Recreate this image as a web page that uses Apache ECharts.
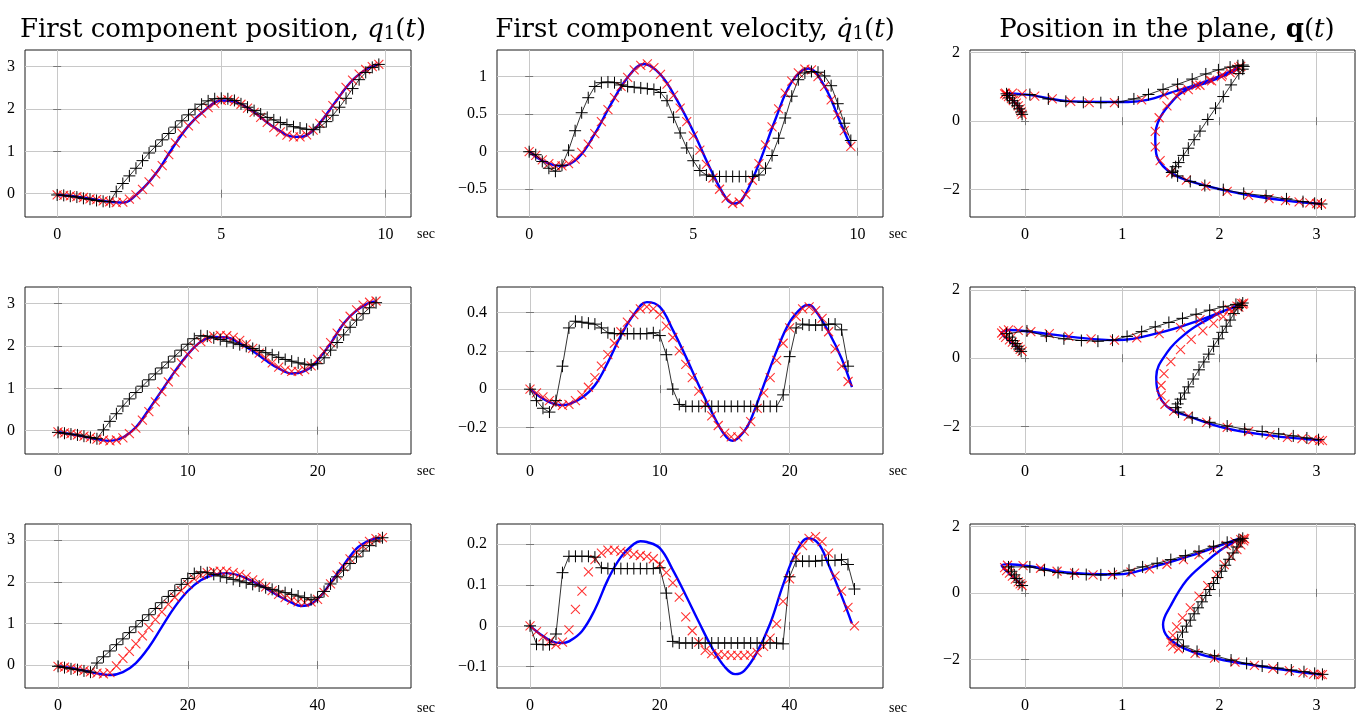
<!DOCTYPE html>
<html>
<head>
<meta charset="utf-8">
<script src="https://cdn.jsdelivr.net/npm/echarts@6/dist/echarts.min.js"></script>
<style>
    html, body { margin: 0; padding: 0; background: #fff; }
    #main { width: 1362px; height: 714px; }
</style>
</head>
<body>
<div id="main"></div>
<script>
// ---- row 1 : T = 10 s ----
var time1 = [0,0.2,0.4,0.6,0.8,1,1.2,1.4,1.6,1.8,2,2.2,2.4,2.6,2.8,3,3.2,3.4,3.6,3.8,4,4.2,4.4,4.6,4.8,5,5.2,5.4,5.6,5.8,6,6.2,6.4,6.6,6.8,7,7.2,7.4,7.6,7.8,8,8.2,8.4,8.6,8.8,9,9.2,9.4,9.6,9.8];
var redQ1_1 = [-0.03,-0.04,-0.05,-0.07,-0.09,-0.12,-0.14,-0.17,-0.19,-0.21,-0.2,-0.13,-0.03,0.1,0.28,0.47,0.66,0.92,1.2,1.43,1.6,1.76,1.9,2.03,2.13,2.2,2.22,2.18,2.11,2.02,1.92,1.8,1.68,1.56,1.46,1.38,1.34,1.34,1.39,1.5,1.66,1.86,2.08,2.3,2.51,2.68,2.82,2.93,3.0,3.05];
var redQ2_1 = [0.2,0.27,0.36,0.45,0.53,0.6,0.66,0.72,0.77,0.8,0.82,0.82,0.8,0.73,0.65,0.58,0.54,0.54,0.62,0.77,0.9,1.05,1.2,1.35,1.48,1.57,1.6,1.52,1.42,1.3,1.18,1.05,0.92,0.74,0.45,0.1,-0.3,-0.75,-1.15,-1.5,-1.72,-1.9,-2.05,-2.17,-2.26,-2.32,-2.36,-2.39,-2.41,-2.42];
var redV_1 = [0,-0.05,-0.11,-0.16,-0.19,-0.19,-0.16,-0.1,-0.01,0.1,0.24,0.4,0.56,0.72,0.87,0.99,1.09,1.15,1.17,1.12,1.03,0.9,0.75,0.58,0.4,0.21,0.02,-0.17,-0.35,-0.5,-0.62,-0.69,-0.67,-0.57,-0.38,-0.16,0.09,0.33,0.57,0.78,0.94,1.05,1.1,1.09,1.0,0.87,0.69,0.49,0.28,0.07];
var blkQ1_1 = [-0.03,-0.04,-0.06,-0.08,-0.11,-0.13,-0.16,-0.18,-0.19,0.05,0.24,0.42,0.6,0.78,0.96,1.12,1.27,1.42,1.57,1.72,1.86,1.99,2.11,2.19,2.24,2.25,2.24,2.2,2.12,2.04,1.96,1.88,1.8,1.74,1.68,1.63,1.58,1.55,1.52,1.51,1.57,1.7,1.85,2.04,2.25,2.48,2.69,2.86,2.98,3.05];
var blkQ2_1 = [0.2,0.27,0.36,0.45,0.53,0.6,0.68,0.75,0.8,0.78,0.65,0.58,0.55,0.54,0.56,0.65,0.78,0.93,1.08,1.23,1.38,1.5,1.58,1.62,1.64,1.6,1.52,1.39,1.06,0.72,0.38,0.05,-0.29,-0.54,-0.79,-1.0,-1.21,-1.33,-1.46,-1.5,-1.6,-1.76,-1.88,-2.0,-2.11,-2.18,-2.27,-2.35,-2.4,-2.42];
var blkV_1 = [0,-0.04,-0.13,-0.22,-0.26,-0.18,0.02,0.28,0.52,0.72,0.87,0.92,0.93,0.92,0.89,0.87,0.86,0.85,0.84,0.83,0.79,0.68,0.46,0.25,0.05,-0.12,-0.25,-0.31,-0.33,-0.33,-0.33,-0.33,-0.33,-0.33,-0.33,-0.31,-0.22,-0.05,0.18,0.45,0.74,0.96,1.05,1.07,1.06,1.01,0.88,0.64,0.38,0.15];
var blueT1 = [0,0.5,1,1.5,2,2.5,3,3.5,4,4.5,5,5.5,6,6.5,6.75,7,7.25,7.5,7.75,8,8.5,9,9.5,9.8];
var blueQ1_1 = [-0.03,-0.06,-0.12,-0.18,-0.21,0.04,0.47,1.06,1.6,1.97,2.2,2.15,1.92,1.62,1.5,1.38,1.34,1.35,1.46,1.66,2.19,2.68,2.97,3.05];
var blueQ2_1 = [0.2,0.4,0.6,0.75,0.82,0.77,0.58,0.56,0.92,1.28,1.57,1.46,1.18,0.85,0.53,0.05,-0.45,-0.95,-1.42,-1.72,-2.1,-2.32,-2.4,-2.42];
var blueVT1 = [0,0.5,1,1.5,2,2.5,3,3.5,4,4.5,5,5.5,6,6.25,6.5,7,7.5,8,8.5,9,9.5,9.8];
var blueV_1 = [0,-0.14,-0.19,-0.08,0.24,0.64,0.99,1.17,1.03,0.69,0.27,-0.21,-0.62,-0.69,-0.63,-0.16,0.43,0.93,1.11,0.87,0.37,0.07];

// ---- row 2 : T = 25 s ----
var time2 = [0,0.5,1,1.5,2,2.5,3,3.5,4,4.5,5,5.5,6,6.5,7,7.5,8,8.5,9,9.5,10,10.5,11,11.5,12,12.5,13,13.5,14,14.5,15,15.5,16,16.5,17,17.5,18,18.5,19,19.5,20,20.5,21,21.5,22,22.5,23,23.5,24,24.5];
var redQ1_2 = [-0.03,-0.05,-0.07,-0.1,-0.13,-0.16,-0.2,-0.22,-0.24,-0.22,-0.17,-0.07,0.06,0.25,0.45,0.68,0.92,1.15,1.38,1.6,1.8,1.97,2.1,2.18,2.23,2.25,2.24,2.2,2.13,2.04,1.94,1.83,1.71,1.6,1.5,1.43,1.4,1.4,1.44,1.53,1.68,1.87,2.08,2.3,2.52,2.7,2.85,2.96,3.03,3.06];
var redQ2_2 = [0.2,0.26,0.33,0.4,0.47,0.54,0.61,0.68,0.74,0.8,0.83,0.82,0.78,0.72,0.64,0.57,0.53,0.6,0.72,0.9,1.13,1.3,1.43,1.53,1.6,1.62,1.58,1.5,1.38,1.22,1.02,0.8,0.55,0.25,-0.1,-0.45,-0.8,-1.1,-1.35,-1.55,-1.7,-1.88,-2.03,-2.15,-2.25,-2.32,-2.36,-2.39,-2.41,-2.42];
var redV_2 = [0,-0.02,-0.04,-0.06,-0.075,-0.085,-0.08,-0.06,-0.03,0.01,0.06,0.12,0.18,0.24,0.3,0.35,0.39,0.42,0.43,0.42,0.39,0.33,0.27,0.2,0.13,0.06,-0.01,-0.08,-0.14,-0.19,-0.23,-0.25,-0.25,-0.22,-0.17,-0.1,-0.02,0.06,0.15,0.24,0.32,0.38,0.42,0.43,0.41,0.37,0.3,0.21,0.12,0.04];
var blkQ1_2 = [-0.04,-0.06,-0.08,-0.1,-0.13,-0.16,-0.19,0.02,0.22,0.4,0.58,0.75,0.9,1.05,1.2,1.34,1.48,1.62,1.76,1.9,2.04,2.17,2.24,2.23,2.19,2.15,2.11,2.07,2.03,1.99,1.94,1.89,1.84,1.79,1.73,1.68,1.64,1.6,1.57,1.55,1.58,1.72,1.9,2.08,2.26,2.44,2.61,2.76,2.9,3.02];
var blkQ2_2 = [0.2,0.27,0.35,0.43,0.52,0.62,0.72,0.8,0.65,0.57,0.52,0.5,0.53,0.64,0.78,0.92,1.05,1.17,1.29,1.41,1.51,1.58,1.62,1.55,1.49,1.31,1.12,0.94,0.76,0.57,0.35,0.12,-0.11,-0.34,-0.61,-0.84,-1.02,-1.2,-1.34,-1.45,-1.58,-1.75,-1.88,-1.99,-2.08,-2.15,-2.22,-2.28,-2.34,-2.39];
var blkV_2 = [0,-0.06,-0.1,-0.12,-0.06,0.12,0.32,0.355,0.35,0.345,0.34,0.32,0.295,0.29,0.29,0.29,0.29,0.29,0.29,0.295,0.28,0.18,0.0,-0.08,-0.09,-0.09,-0.09,-0.09,-0.09,-0.09,-0.09,-0.09,-0.09,-0.09,-0.09,-0.09,-0.09,-0.09,-0.09,-0.03,0.17,0.32,0.34,0.335,0.335,0.335,0.34,0.34,0.31,0.12];
var blueT2 = [0,1,2,3,4,5,6,7,8,9,10,11,12,13,14,15,16,17,18,18.5,19,19.5,20,21,22,23,24,24.5];
var blueQ1_2 = [-0.03,-0.08,-0.14,-0.2,-0.24,-0.16,0.08,0.5,0.95,1.4,1.8,2.1,2.21,2.2,2.06,1.88,1.66,1.47,1.35,1.36,1.41,1.5,1.66,2.06,2.53,2.84,3.02,3.05];
var blueQ2_2 = [0.2,0.33,0.47,0.61,0.74,0.83,0.77,0.62,0.53,0.76,1.12,1.45,1.58,1.55,1.4,1.14,0.74,0.2,-0.55,-0.9,-1.25,-1.5,-1.68,-2.05,-2.27,-2.36,-2.4,-2.41];
var blueVT2 = [0,1,2,2.5,3,4,5,6,7,8,9,10,11,12,13,14,15,15.6,16.5,17,18,19,20,21,21.5,22,23,24,24.8];
var blueV_2 = [0,-0.05,-0.08,-0.083,-0.078,-0.045,0.02,0.14,0.28,0.39,0.455,0.43,0.31,0.17,0.02,-0.12,-0.24,-0.27,-0.22,-0.16,0.02,0.2,0.35,0.43,0.44,0.41,0.3,0.16,0.01];

// ---- row 3 : T = 50 s ----
var time3 = [0,1,2,3,4,5,6,7,8,9,10,11,12,13,14,15,16,17,18,19,20,21,22,23,24,25,26,27,28,29,30,31,32,33,34,35,36,37,38,39,40,41,42,43,44,45,46,47,48,49,50];
var redQ1_3 = [-0.03,-0.05,-0.07,-0.1,-0.13,-0.16,-0.19,-0.21,-0.18,-0.02,0.16,0.33,0.51,0.7,0.9,1.09,1.28,1.46,1.63,1.79,1.94,2.07,2.16,2.22,2.25,2.26,2.25,2.22,2.18,2.12,2.05,1.97,1.88,1.79,1.7,1.62,1.56,1.52,1.5,1.52,1.58,1.75,1.95,2.16,2.36,2.55,2.72,2.86,2.97,3.04,3.06];
var redQ2_3 = [0.22,0.27,0.33,0.41,0.5,0.59,0.67,0.76,0.83,0.82,0.74,0.65,0.59,0.54,0.55,0.62,0.72,0.86,1.0,1.15,1.3,1.43,1.53,1.6,1.64,1.62,1.56,1.44,1.3,1.1,0.85,0.55,0.22,-0.1,-0.45,-0.75,-1.02,-1.28,-1.48,-1.6,-1.68,-1.82,-1.96,-2.08,-2.18,-2.27,-2.34,-2.4,-2.44,-2.46,-2.46];
var redV_3 = [0,-0.014,-0.027,-0.038,-0.046,-0.04,-0.01,0.04,0.085,0.132,0.162,0.178,0.185,0.185,0.182,0.178,0.175,0.172,0.17,0.164,0.15,0.13,0.105,0.07,0.022,-0.012,-0.04,-0.06,-0.068,-0.07,-0.071,-0.072,-0.072,-0.072,-0.071,-0.065,-0.05,-0.03,0.005,0.06,0.115,0.168,0.196,0.214,0.218,0.206,0.178,0.122,0.085,0.045,0.0];
var blkQ1_3 = [-0.03,-0.06,-0.09,-0.11,-0.14,-0.17,0.05,0.2,0.34,0.49,0.63,0.78,0.92,1.07,1.21,1.36,1.5,1.65,1.79,1.94,2.08,2.2,2.24,2.22,2.18,2.14,2.1,2.06,2.02,1.98,1.94,1.9,1.86,1.82,1.78,1.74,1.7,1.66,1.62,1.57,1.63,1.77,1.95,2.12,2.28,2.44,2.6,2.74,2.87,2.98,3.06];
var blkQ2_3 = [0.22,0.32,0.43,0.54,0.65,0.78,0.78,0.68,0.61,0.57,0.55,0.54,0.58,0.68,0.78,0.89,1.0,1.12,1.25,1.4,1.52,1.6,1.64,1.56,1.38,1.2,1.01,0.83,0.65,0.46,0.28,0.1,-0.08,-0.27,-0.45,-0.63,-0.82,-1.0,-1.18,-1.41,-1.6,-1.76,-1.89,-2.02,-2.12,-2.2,-2.26,-2.32,-2.37,-2.42,-2.45];
var blkV_3 = [0,-0.045,-0.046,-0.046,-0.02,0.13,0.17,0.17,0.17,0.17,0.168,0.142,0.14,0.14,0.14,0.14,0.14,0.14,0.14,0.14,0.142,0.08,-0.038,-0.042,-0.042,-0.042,-0.042,-0.042,-0.042,-0.042,-0.042,-0.042,-0.042,-0.042,-0.042,-0.042,-0.042,-0.042,-0.042,-0.044,0.12,0.158,0.158,0.158,0.158,0.16,0.16,0.16,0.162,0.15,0.09];
var blueT3 = [0,2,4,6,8,10,12,14,16,18,20,22,24,26,28,30,32,34,36,37.5,39,40.5,42,44,46,48,49.6];
var blueQ1_3 = [-0.03,-0.07,-0.13,-0.2,-0.24,-0.17,0.05,0.43,0.92,1.4,1.78,2.04,2.17,2.21,2.15,2.01,1.85,1.66,1.5,1.42,1.47,1.66,1.98,2.4,2.8,3.0,3.06];
var blueQ2_3 = [0.22,0.33,0.5,0.68,0.82,0.86,0.8,0.61,0.55,0.85,1.19,1.46,1.6,1.64,1.53,1.28,0.9,0.37,-0.38,-0.95,-1.33,-1.7,-1.98,-2.2,-2.37,-2.44,-2.46];
var blueVT3 = [0,2,4,5,6,8,10,12,14,16,17,18,20,22,24,26,28,30,31.6,33,35,37,39,41,42.9,44.5,46,48,49.6];
var blueV_3 = [0,-0.025,-0.041,-0.042,-0.038,-0.013,0.04,0.113,0.168,0.2,0.207,0.205,0.19,0.137,0.075,0.01,-0.052,-0.1,-0.118,-0.11,-0.064,0.005,0.1,0.18,0.214,0.2,0.15,0.074,0.006];

// tick values
var ticksT1 = [0, 5, 10];
var ticksT2 = [0, 10, 20];
var ticksT3 = [0, 20, 40];
var ticksPlaneX = [0, 1, 2, 3];
var ticksPlaneY = [-2, 0, 2];
var ticksPos = [0, 1, 2, 3];
var ticksVel1 = [-0.5, 0, 0.5, 1];
var ticksVel2 = [-0.2, 0, 0.2, 0.4];
var ticksVel3 = [-0.1, 0, 0.1, 0.2];

var SERIF = '"Liberation Serif", "DejaVu Serif", serif';
var TITLE_FONT = '"DejaVu Serif", "Liberation Serif", serif';
var PLUS = 'path://M5,0L5,10M0,5L10,5';
var CROSS = 'path://M0,0L10,10M0,10L10,0';

function pairs(xs, ys) {
    return xs.map(function (x, i) { return [x, ys[i]]; });
}

// panel order: row by row, left to right
var panels = [
    {x: [-0.98, 10.78], xt: ticksT1, y: [-0.55, 3.39], yt: ticksPos, sec: true,
        blue: pairs(blueT1, blueQ1_1), red: pairs(time1, redQ1_1), blk: pairs(time1, blkQ1_1)},
    {x: [-0.98, 10.78], xt: ticksT1, y: [-0.87, 1.356], yt: ticksVel1, sec: true,
        blue: pairs(blueVT1, blueV_1), red: pairs(time1, redV_1), blk: pairs(time1, blkV_1)},
    {x: [-0.566, 3.395], xt: ticksPlaneX, y: [-2.8, 2.08], yt: ticksPlaneY,
        blue: pairs(blueQ1_1, blueQ2_1), red: pairs(redQ1_1, redQ2_1), blk: pairs(blkQ1_1, blkQ2_1)},

    {x: [-2.54, 27.19], xt: ticksT2, y: [-0.55, 3.39], yt: ticksPos, sec: true,
        blue: pairs(blueT2, blueQ1_2), red: pairs(time2, redQ1_2), blk: pairs(time2, blkQ1_2)},
    {x: [-2.54, 27.19], xt: ticksT2, y: [-0.339, 0.534], yt: ticksVel2, sec: true,
        blue: pairs(blueVT2, blueV_2), red: pairs(time2, redV_2), blk: pairs(time2, blkV_2)},
    {x: [-0.566, 3.395], xt: ticksPlaneX, y: [-2.81, 2.09], yt: ticksPlaneY,
        blue: pairs(blueQ1_2, blueQ2_2), red: pairs(redQ1_2, redQ2_2), blk: pairs(blkQ1_2, blkQ2_2)},

    {x: [-5.09, 54.4], xt: ticksT3, y: [-0.55, 3.39], yt: ticksPos, sec: true,
        blue: pairs(blueT3, blueQ1_3), red: pairs(time3, redQ1_3), blk: pairs(time3, blkQ1_3)},
    {x: [-5.09, 54.4], xt: ticksT3, y: [-0.152, 0.249], yt: ticksVel3, sec: true,
        blue: pairs(blueVT3, blueV_3), red: pairs(time3, redV_3), blk: pairs(time3, blkV_3)},
    {x: [-0.566, 3.395], xt: ticksPlaneX, y: [-2.86, 2.07], yt: ticksPlaneY,
        blue: pairs(blueQ1_3, blueQ2_3), red: pairs(redQ1_3, redQ2_3), blk: pairs(blkQ1_3, blkQ2_3)}
];

var colLeft = [25, 497, 970];
var colWidth = [386, 386, 385];
var rowTop = [50, 287, 524];
var rowHeight = 167;

function fmt(v) {
    return String(v).replace('-', '\u2212');
}

var grids = [], xAxes = [], yAxes = [], series = [], labels = [];
panels.forEach(function (p, i) {
    var r = Math.floor(i / 3), c = i % 3;
    grids.push({
        left: colLeft[c], top: rowTop[r], width: colWidth[c], height: rowHeight,
        show: true, borderColor: '#1a1a1a', borderWidth: 1, backgroundColor: 'transparent'
    });
    var tick = {show: true, inside: true, length: 4, lineStyle: {color: '#777', width: 1}};
    xAxes.push({
        gridIndex: i, type: 'value', min: p.x[0], max: p.x[1], position: 'bottom',
        axisLine: {show: false},
        axisTick: Object.assign({customValues: p.xt}, tick),
        axisLabel: {customValues: p.xt, formatter: fmt, fontFamily: SERIF, fontSize: 16, color: '#000', margin: 10},
        splitLine: {show: true, lineStyle: {color: '#c8c8c8', width: 1}}
    });
    xAxes.push({
        gridIndex: i, type: 'value', min: p.x[0], max: p.x[1], position: 'top',
        axisLine: {show: false},
        axisTick: Object.assign({customValues: p.xt}, tick),
        axisLabel: {show: false, customValues: p.xt},
        splitLine: {show: false}
    });
    yAxes.push({
        gridIndex: i, type: 'value', min: p.y[0], max: p.y[1], position: 'left',
        axisLine: {show: false},
        axisTick: Object.assign({customValues: p.yt}, tick),
        axisLabel: {customValues: p.yt, formatter: fmt, fontFamily: SERIF, fontSize: 16, color: '#000', margin: 10},
        splitLine: {show: true, lineStyle: {color: '#c8c8c8', width: 1}}
    });
    yAxes.push({
        gridIndex: i, type: 'value', min: p.y[0], max: p.y[1], position: 'right',
        axisLine: {show: false},
        axisTick: Object.assign({customValues: p.yt}, tick),
        axisLabel: {show: false, customValues: p.yt},
        splitLine: {show: false}
    });
    series.push({
        type: 'line', xAxisIndex: 2 * i, yAxisIndex: 2 * i, data: p.blue,
        smooth: 0.4, symbol: 'none', z: 2,
        lineStyle: {color: '#0000ff', width: 2.4}
    });
    series.push({
        type: 'scatter', xAxisIndex: 2 * i, yAxisIndex: 2 * i, data: p.red,
        symbol: CROSS, symbolSize: 9, z: 3,
        itemStyle: {color: '#ff0000', borderColor: '#ff0000', borderWidth: 1.1}
    });
    series.push({
        type: 'line', xAxisIndex: 2 * i, yAxisIndex: 2 * i, data: p.blk,
        symbol: PLUS, symbolSize: 12, showSymbol: true, showAllSymbol: true, z: 4,
        lineStyle: {color: '#000', width: 0.8},
        itemStyle: {color: '#000', borderColor: '#000', borderWidth: 1}
    });
    // unit label of the time axis, level with the tick labels
    if (p.sec) {
        labels.push({
            type: 'text', left: colLeft[c] + colWidth[c] + 6, top: rowTop[r] + rowHeight + 10,
            style: {text: 'sec', fontFamily: SERIF, fontSize: 14, fill: '#000'}
        });
    }
});

var base = {fontFamily: TITLE_FONT, fontSize: 26, lineHeight: 31, verticalAlign: 'bottom', fontWeight: 'normal', color: '#000'};
var titleRich = {
    n: base,
    i: Object.assign({}, base, {fontStyle: 'italic'}),
    b: Object.assign({}, base, {fontWeight: 'bold'}),
    s: Object.assign({}, base, {fontSize: 18, lineHeight: 14})
};

var chart = echarts.init(document.getElementById('main'));
chart.setOption({
    animation: false,
    backgroundColor: '#fff',
    title: [
        {text: '{n|First component position, }{i|q}{s|1}{n|(}{i|t}{n|)}', left: 218, top: 7, textAlign: 'center',
            textStyle: {fontWeight: 'normal', rich: titleRich}},
        {text: '{n|First component velocity, }{i|q\u0307}{s|1}{n|(}{i|t}{n|)}', left: 690, top: 7, textAlign: 'center',
            textStyle: {fontWeight: 'normal', rich: titleRich}},
        {text: '{n|Position in the plane, }{b|q}{n|(}{i|t}{n|)}', left: 1162, top: 7, textAlign: 'center',
            textStyle: {fontWeight: 'normal', rich: titleRich}}
    ],
    grid: grids,
    xAxis: xAxes,
    yAxis: yAxes,
    graphic: labels,
    series: series
});
</script>
</body>
</html>
